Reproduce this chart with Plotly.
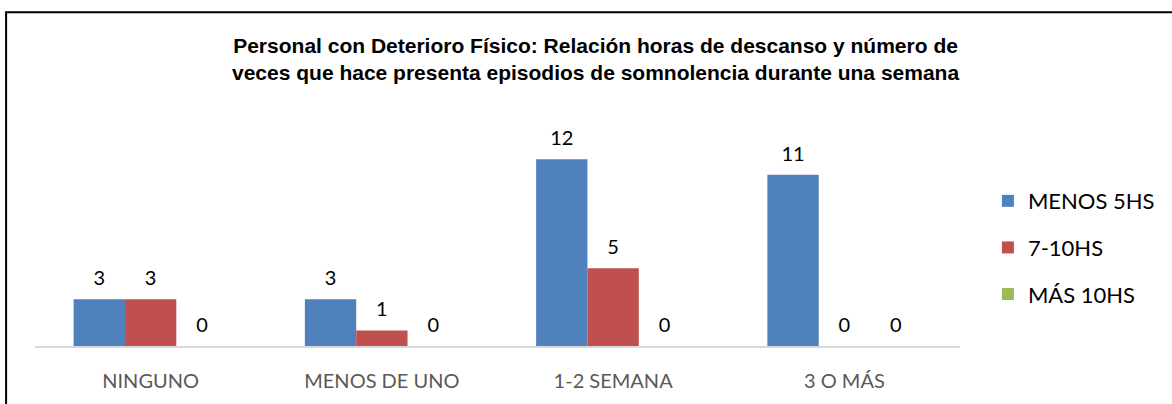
import plotly.graph_objects as go

categories = ["NINGUNO", "MENOS DE UNO", "1-2 SEMANA", "3 O MÁS"]
menos_5hs = [3, 3, 12, 11]
de_7_10hs = [3, 1, 5, 0]
mas_10hs = [0, 0, 0, 0]
series_names = ["MENOS 5HS", "7-10HS", "MÁS 10HS"]
colors = ["#4F81BD", "#C0504D", "#9BBB59"]

W, H = 1172, 404
L, R, T, B = 35, 209, 128, 54
pw = W - L - R
ph = H - T - B
FONT = "Lato, Carlito, Calibri, sans-serif"
PAD = "<span style='font-size:52px'>\u00a0</span>"

fig = go.Figure()
for i, (name, vals) in enumerate(zip(series_names, [menos_5hs, de_7_10hs, mas_10hs])):
    fig.add_trace(go.Bar(
        x=categories, y=vals, name=name,
        marker=dict(color=colors[i], line=dict(width=0)),
        text=[f"{PAD}{v}{PAD}" for v in vals], textposition="outside",
        constraintext="none",
        textfont=dict(family=FONT, size=20, color="#000000"),
        cliponaxis=False, legendgroup=name,
    ))

def px_x(p):
    return (p - L) / pw

def px_y(p):
    return (H - B - p) / ph

fig.update_layout(
    width=W, height=H,
    margin=dict(l=L, r=R, t=T, b=B),
    paper_bgcolor="white", plot_bgcolor="white",
    barmode="group", bargap=0.334, bargroupgap=0,
    showlegend=True,
    legend=dict(
        x=px_x(991), y=px_y(181), xanchor="left", yanchor="top",
        font=dict(family=FONT, size=22, color="#000000"),
        traceorder="grouped", tracegroupgap=15, itemwidth=30,
        bgcolor="rgba(0,0,0,0)",
    ),
    xaxis=dict(
        showgrid=False, showline=True, linecolor="#D9D9D9", linewidth=1.5,
        ticks="outside", ticklen=16, tickcolor="rgba(0,0,0,0)",
        tickfont=dict(family=FONT, size=20, color="#595959"),
        zeroline=False,
    ),
    yaxis=dict(range=[0, 14], visible=False, showgrid=False, zeroline=False),
    annotations=[dict(
        text="<b>Personal con Deterioro Físico: Relación horas de descanso y número de<br>veces que hace presenta episodios de somnolencia durante una semana</b>",
        xref="paper", yref="paper", x=px_x(597), y=px_y(57.5),
        xanchor="center", yanchor="middle", showarrow=False,
        font=dict(family="Liberation Sans, Arial, sans-serif", size=21, color="#000000"),
        align="center",
    )],
    shapes=[dict(
        type="rect", xref="paper", yref="paper",
        x0=px_x(6), x1=px_x(1190), y0=px_y(430), y1=px_y(10),
        line=dict(color="#000000", width=2), fillcolor="rgba(0,0,0,0)", layer="above",
    )],
)

fig.write_html("out.html", config={"displayModeBar": False},
               post_script="document.body.style.margin='0';")
